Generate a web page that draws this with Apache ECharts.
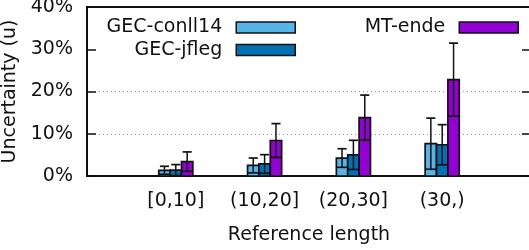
<!DOCTYPE html>
<html>
<head>
<meta charset="utf-8">
<script src="https://cdn.jsdelivr.net/npm/echarts@6/dist/echarts.min.js"></script>
<style>
html,body{margin:0;padding:0;background:#fff;}
#chart{width:529px;height:250px;}
</style>
</head>
<body>
<div id="chart"></div>
<script>
// ---- data ----
const categories = ['[0,10]', '(10,20]', '(20,30]', '(30,)'];
const seriesNames = ['GEC-conll14', 'GEC-jfleg', 'MT-ende'];
const conll14Values = [1.35, 2.5, 4.25, 7.65];
const conll14Errors = [0.95, 1.75, 2.2, 6.05];
const jflegValues = [1.4, 2.85, 5.0, 7.4];
const jflegErrors = [1.3, 2.2, 3.45, 4.75];
const mtendeValues = [3.4, 8.4, 13.8, 22.8];
const mtendeErrors = [2.3, 4.0, 5.35, 8.65];
const yTickValues = [0, 10, 20, 30, 40];
const xLabel = 'Reference length';
const yLabel = 'Uncertainty (u)';

// ---- styling ----
const FONT = 'DejaVu Sans';
const FS = 19;
const colors = ['#56B4E9', '#0072B2', '#9400D3'];
const BAR_W = 0.128; // in category units

function makeRender(offsetIdx) {
  return function (params, api) {
    const x = api.value(0), v = api.value(1), e = api.value(2);
    const bw = api.size([BAR_W, 0])[0];
    const base = api.coord([x, 0]);
    const cx = base[0] + offsetIdx * bw;
    const y0 = base[1];
    const yTop = api.coord([x, v])[1];
    const yLo = api.coord([x, v - e])[1];
    const yHi = api.coord([x, v + e])[1];
    const color = api.visual('color');
    const cap = bw * 0.8;
    return {
      type: 'group',
      children: [
        { type: 'rect', shape: { x: cx - bw / 2, y: yTop, width: bw, height: y0 - yTop },
          style: { fill: color, stroke: '#111', lineWidth: 1.7 } },
        { type: 'line', shape: { x1: cx, y1: yLo, x2: cx, y2: yHi },
          style: { stroke: '#111', lineWidth: 1.5 } },
        { type: 'line', shape: { x1: cx - bw / 2, y1: yLo, x2: cx + bw / 2, y2: yLo },
          style: { stroke: '#111', lineWidth: 1.7 } },
        { type: 'line', shape: { x1: cx - cap / 2, y1: yHi, x2: cx + cap / 2, y2: yHi },
          style: { stroke: '#111', lineWidth: 1.7 } }
      ]
    };
  };
}

function seriesData(vals, errs) {
  return vals.map((v, i) => [i, v, errs[i]]);
}

const allVals = [conll14Values, jflegValues, mtendeValues];
const allErrs = [conll14Errors, jflegErrors, mtendeErrors];

const series = seriesNames.map((name, k) => ({
  name: name,
  type: 'custom',
  renderItem: makeRender(k - 1),
  itemStyle: { color: colors[k] },
  data: seriesData(allVals[k], allErrs[k]),
  encode: { x: 0, y: [1] },
  clip: false,
  z: 3
}));

const legendCommon = {
  orient: 'vertical',
  padding: 0,
  icon: 'rect',
  align: 'right',
  itemWidth: 59,
  itemHeight: 11,
  itemStyle: { borderColor: '#111', borderWidth: 1.5 },
  textStyle: { fontFamily: FONT, fontSize: FS, color: '#111', lineHeight: 22, padding: [0, 9, 0, 0] },
  selectedMode: false
};

const option = {
  animation: false,
  backgroundColor: '#fff',
  grid: { left: 87, right: -2, top: 7, bottom: 74, show: true, borderColor: '#111', borderWidth: 2,
          containLabel: false, outerBoundsMode: 'none' },
  legend: [
    Object.assign({}, legendCommon, { data: [seriesNames[0]], right: 233, top: 16.5 }),
    Object.assign({}, legendCommon, { data: [seriesNames[1]], right: 233, top: 39 }),
    Object.assign({}, legendCommon, { data: [seriesNames[2]], right: 10, top: 16.5 })
  ],
  xAxis: {
    type: 'value',
    min: -1, max: 4, interval: 1,
    name: xLabel,
    nameLocation: 'middle',
    nameGap: 50,
    nameTextStyle: { fontFamily: FONT, fontSize: FS, color: '#111' },
    axisLine: { show: true, onZero: false, lineStyle: { color: '#111', width: 2 } },
    axisTick: { show: false },
    splitLine: { show: false },
    axisLabel: {
      fontFamily: FONT, fontSize: FS, color: '#111', margin: 16,
      formatter: function (v) { return (v >= 0 && v < categories.length) ? categories[v] : ''; }
    }
  },
  yAxis: [
    {
      type: 'value',
      min: yTickValues[0], max: yTickValues[yTickValues.length - 1], interval: 10,
      name: yLabel,
      nameLocation: 'middle',
      nameGap: 58,
      nameTextStyle: { fontFamily: FONT, fontSize: FS, color: '#111' },
      axisLine: { show: true, onZero: false, lineStyle: { color: '#111', width: 2 } },
      axisTick: { show: true, inside: true, length: 9, lineStyle: { color: '#111', width: 1.5 } },
      axisLabel: { fontFamily: FONT, fontSize: FS, color: '#111', margin: 14, formatter: '{value}%' },
      splitLine: { show: true, lineStyle: { color: ['transparent', '#9a9a9a', '#9a9a9a', 'transparent', 'transparent'], width: 1, type: [1, 3] } }
    },
    {
      type: 'value',
      position: 'right',
      min: yTickValues[0], max: yTickValues[yTickValues.length - 1], interval: 10,
      axisLine: { show: true, onZero: false, lineStyle: { color: '#111', width: 2 } },
      axisTick: { show: true, inside: true, length: 9, lineStyle: { color: '#111', width: 1.5 } },
      axisLabel: { show: false },
      splitLine: { show: false }
    }
  ],
  series: series
};

const chart = echarts.init(document.getElementById('chart'), null, { renderer: 'canvas' });
chart.setOption(option);
</script>
</body>
</html>
